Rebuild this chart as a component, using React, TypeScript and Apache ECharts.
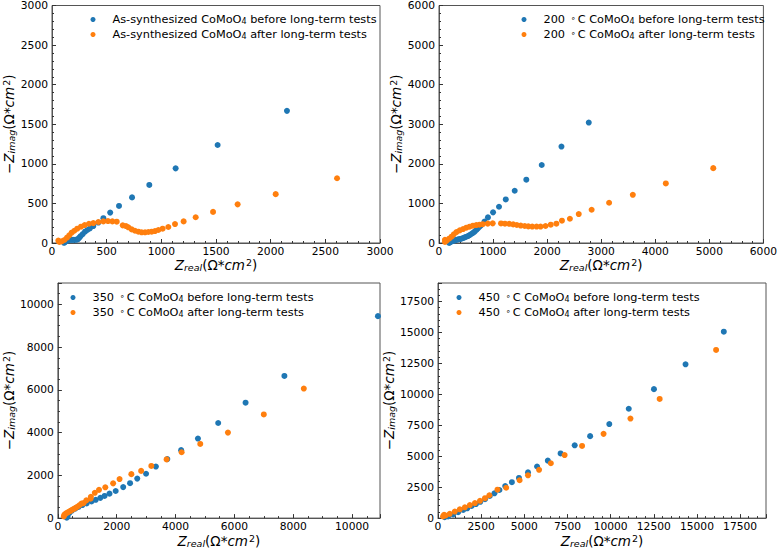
import React, { useEffect, useRef } from "react";
import * as echarts from "echarts";

const BLUE = "#1f77b4";
const ORANGE = "#ff7f0e";
const FONT = "DejaVu Sans";

// Panel 1: As-synthesized
const p1Names = ["As-synthesized CoMoO4 before long-term tests", "As-synthesized CoMoO4 after long-term tests"];
const p1Before: number[][] = [
  [110, 2], [118, 10], [126, 20], [135, 28], [145, 34], [158, 38], [172, 40], [186, 40], [200, 40], [214, 41],
  [228, 43], [238, 50], [250, 67], [262, 88], [281, 113], [302, 143], [323, 164], [347, 185], [378, 214],
  [424, 258], [470, 313], [532, 384], [613, 468], [732, 576], [890, 733], [1131, 943], [1515, 1238], [2149, 1669],
];
const p1After: number[][] = [
  [58, 30], [67, 13], [89, 21], [113, 38], [137, 67], [158, 97], [180, 130], [204, 155], [231, 181], [265, 206],
  [299, 227], [338, 243], [378, 252], [424, 265], [470, 273], [512, 277], [552, 273], [592, 269], [647, 223],
  [677, 214], [698, 198], [729, 172], [759, 155], [790, 143], [820, 135], [851, 135], [881, 139], [912, 143],
  [942, 151], [973, 164], [1012, 181], [1064, 202], [1125, 239], [1204, 273], [1314, 325], [1473, 393],
  [1698, 488], [2046, 617], [2607, 818],
];

// Panel 2: 200 °C
const p2Names = ["200°C CoMoO4 before long-term tests", "200°C CoMoO4 after long-term tests"];
const p2Before: number[][] = [
  [188, 0], [205, 20], [220, 35], [245, 48], [270, 58], [293, 67], [320, 78], [353, 92], [385, 100], [415, 109],
  [445, 125], [476, 143], [505, 158], [536, 176], [567, 200], [598, 227], [628, 255], [658, 286], [690, 328],
  [720, 370], [750, 412], [781, 454], [841, 540], [905, 647], [1000, 774], [1110, 916], [1235, 1100],
  [1400, 1320], [1615, 1600], [1900, 1970], [2265, 2437], [2770, 3042],
];
const p2After: number[][] = [
  [110, 80], [110, 25], [141, 59], [188, 109], [232, 160], [274, 218], [323, 277], [384, 319], [445, 353],
  [506, 386], [567, 412], [628, 437], [689, 454], [750, 462], [810, 475], [902, 490], [993, 496], [1147, 495],
  [1220, 488], [1299, 485], [1372, 470], [1440, 455], [1512, 440], [1586, 430], [1652, 420], [1725, 415],
  [1805, 415], [1879, 415], [1970, 430], [2067, 462], [2171, 487], [2274, 563], [2421, 613], [2585, 731],
  [2823, 840], [3146, 1017], [3585, 1218], [4195, 1504], [5073, 1891],
];

// Panel 3: 350 °C
const p3Names = ["350°C CoMoO4 before long-term tests", "350°C CoMoO4 after long-term tests"];
const p3Before: number[][] = [
  [300, 20], [330, 100], [389, 244], [477, 351], [588, 443], [699, 519], [832, 611], [976, 687], [1143, 779],
  [1287, 855], [1443, 947], [1587, 1038], [1754, 1145], [1964, 1267], [2220, 1450], [2453, 1634], [2697, 1847],
  [2997, 2076], [3330, 2412], [3720, 2760], [4190, 3180], [4760, 3720], [5450, 4450], [6380, 5400],
  [7700, 6650], [10880, 9450],
];
const p3After: number[][] = [
  [200, 80], [220, 150], [250, 190], [290, 230], [340, 270], [390, 310], [440, 350], [490, 390], [540, 430],
  [600, 480], [660, 530], [730, 600], [800, 680], [870, 700], [966, 828], [1111, 906], [1121, 997],
  [1255, 1183], [1398, 1321], [1611, 1441], [1877, 1625], [2097, 1827], [2497, 2057], [2830, 2209],
  [3176, 2439], [3695, 2747], [4206, 3080], [4840, 3470], [5780, 4000], [7000, 4850], [8360, 6060],
];

// Panel 4: 450 °C
const p4Names = ["450°C CoMoO4 before long-term tests", "450°C CoMoO4 after long-term tests"];
const p4Before: number[][] = [
  [389, 79], [584, 132], [875, 290], [1167, 475], [1459, 660], [1693, 792], [1946, 976], [2198, 1135],
  [2451, 1319], [2724, 1530], [2996, 1794], [3268, 2005], [3560, 2269], [3891, 2586], [4280, 2902],
  [4689, 3245], [5214, 3694], [5739, 4169], [6362, 4644], [7101, 5224], [7918, 5884], [8813, 6623],
  [9922, 7599], [11051, 8839], [12510, 10422], [14339, 12427], [16556, 15066],
];
const p4After: number[][] = [
  [350, 264], [292, 132], [447, 211], [681, 343], [973, 528], [1265, 712], [1556, 871], [1848, 1055],
  [2140, 1214], [2432, 1398], [2724, 1609], [2977, 1847], [3444, 2296], [3949, 2454], [4728, 3061],
  [5214, 3456], [5856, 3905], [6537, 4433], [7335, 5092], [8346, 5831], [9591, 6807], [11148, 8047],
  [12840, 9631], [16109, 13588],
];

// Axis setup per panel
const xAxes = [
  { max: 3000, interval: 500, minor: 5, showMax: true },
  { max: 6000, interval: 1000, minor: 5, showMax: true },
  { max: 10950, interval: 2000, minor: 4, showMax: false },
  { max: 19000, interval: 2500, minor: 5, showMax: false },
];
const yAxes = [
  { max: 3000, interval: 500, minor: 5, showMax: true },
  { max: 6000, interval: 1000, minor: 5, showMax: true },
  { max: 11000, interval: 2000, minor: 4, showMax: false },
  { max: 19000, interval: 2500, minor: 5, showMax: false },
];

const grids = [
  { left: 52, top: 5, width: 328, height: 238 },
  { left: 439, top: 5, width: 328, height: 238 },
  { left: 52, top: 283, width: 328, height: 240 },
  { left: 438, top: 283, width: 328, height: 240 },
];
const legendPos = [
  { left: 90.5, top: 14 },
  { left: 521.5, top: 14 },
  { left: 70.5, top: 292 },
  { left: 456.5, top: 292 },
];

const richStyles = {
  i: { fontStyle: "italic", fontSize: 13.5, fontFamily: FONT, color: "#000" },
  n: { fontSize: 13.5, fontFamily: FONT, color: "#000" },
  sub: { fontStyle: "italic", fontSize: 9.5, fontFamily: FONT, color: "#000", verticalAlign: "bottom", padding: [4, 0, 0, 0] },
  sup: { fontSize: 9.5, fontFamily: FONT, color: "#000", verticalAlign: "top", padding: [0, 0, 5, 1] },
};

const legendRich = {
  sub: { fontSize: 8, fontFamily: FONT, color: "#000", verticalAlign: "bottom", padding: [3, 0, 0, 0] },
  sup: { fontSize: 8, fontFamily: FONT, color: "#000", verticalAlign: "top", padding: [0, 2, 3, 2] },
};

function legendFormatter(name: string) {
  return name.replace("CoMoO4", "CoMoO{sub|4}").replace("°C", " {sup|∘}C");
}

export default function App() {
  const ref = useRef<HTMLDivElement>(null);
  useEffect(() => {
    if (!ref.current) return;
    const chart = echarts.init(ref.current, undefined, { renderer: "svg" });
    const names = [p1Names, p2Names, p3Names, p4Names];
    const data = [
      [p1Before, p1After],
      [p2Before, p2After],
      [p3Before, p3After],
      [p4Before, p4After],
    ];
    const series: any[] = [];
    names.forEach((nm, gi) => {
      series.push({
        type: "scatter", name: nm[0], xAxisIndex: gi, yAxisIndex: gi, data: data[gi][0],
        symbol: "circle", symbolSize: 6, itemStyle: { color: BLUE, opacity: 1 }, z: 2,
      });
      series.push({
        type: "scatter", name: nm[1], xAxisIndex: gi, yAxisIndex: gi, data: data[gi][1],
        symbol: "circle", symbolSize: 6, itemStyle: { color: ORANGE, opacity: 1 }, z: 3,
      });
    });
    const axisCommon = {
      axisLine: { show: true, lineStyle: { color: "#555", width: 1 } },
      axisTick: { show: true, inside: true, length: 4, lineStyle: { color: "#333" } },
      minorTick: { show: true, length: 2, lineStyle: { color: "#333" } },
      splitLine: { show: false },
    };
    const fmt = (v: number) => String(v);
    const option: any = {
      animation: false,
      backgroundColor: "#fff",
      textStyle: { fontFamily: FONT },
      grid: grids.map((g) => ({ ...g, show: true, borderColor: "#555", borderWidth: 1, backgroundColor: "transparent", containLabel: false })),
      legend: legendPos.map((p, i) => ({
        ...p,
        orient: "vertical",
        data: names[i],
        icon: "circle",
        itemWidth: 5,
        itemHeight: 5,
        itemGap: 4,
        padding: 0,
        formatter: legendFormatter,
        textStyle: { fontSize: 11.3, fontFamily: FONT, color: "#000", padding: [0, 0, 0, 12], rich: legendRich },
      })),
      xAxis: xAxes.map((a, i) => ({
        type: "value", gridIndex: i, min: 0, max: a.max, interval: a.interval,
        ...axisCommon,
        minorTick: { ...axisCommon.minorTick, splitNumber: a.minor },
        axisLabel: { fontSize: 10.7, fontFamily: FONT, color: "#000", margin: 3, showMaxLabel: a.showMax, hideOverlap: false, formatter: fmt },
        name: "{i|Z}{sub|real}{n|(Ω*}{i|cm}{sup|2}{n|)}",
        nameLocation: "middle",
        nameGap: i < 2 ? 13 : 10,
        nameTextStyle: { rich: richStyles },
      })),
      yAxis: yAxes.map((a, i) => ({
        type: "value", gridIndex: i, min: 0, max: a.max, interval: a.interval,
        ...axisCommon,
        minorTick: { ...axisCommon.minorTick, splitNumber: a.minor },
        axisLabel: { fontSize: 10.7, fontFamily: FONT, color: "#000", margin: 4, showMaxLabel: a.showMax, hideOverlap: false, formatter: fmt },
        name: "{n|−}{i|Z}{sub|imag}{n|(Ω*}{i|cm}{sup|2}{n|)}",
        nameLocation: "middle",
        nameRotate: 90,
        nameGap: i < 2 ? 31 : 38,
        nameTextStyle: { rich: richStyles },
      })),
      series,
    };
    chart.setOption(option);
    return () => chart.dispose();
  }, []);
  return <div ref={ref} style={{ width: 780, height: 549, position: "absolute", left: 0, top: 0 }} />;
}
